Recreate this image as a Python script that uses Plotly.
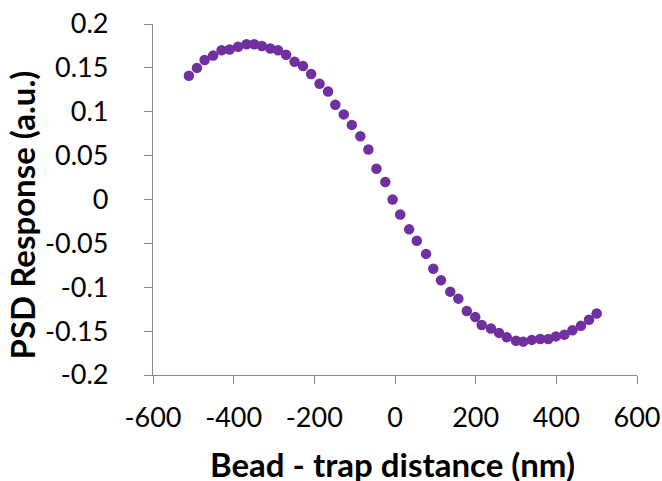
import plotly.graph_objects as go

# Bead - trap distance (nm)
distance_nm = [-511, -491, -472, -451, -430, -410, -389, -368, -349, -330,
               -309, -290, -270, -249, -228, -208, -187, -166, -148, -127,
               -107, -86, -66, -46, -24, -6, 13, 35, 54, 77,
               95, 114, 137, 157, 178, 199, 215, 238, 258, 277,
               300, 318, 339, 360, 380, 399, 420, 440, 461, 481, 500]
# PSD response (a.u.)
psd_response = [0.141, 0.150, 0.159, 0.164, 0.170, 0.171, 0.174, 0.177, 0.177, 0.175,
                0.172, 0.170, 0.165, 0.157, 0.152, 0.143, 0.132, 0.123, 0.108, 0.097,
                0.085, 0.072, 0.057, 0.035, 0.020, 0.000, -0.017, -0.034, -0.047, -0.062,
                -0.079, -0.092, -0.105, -0.113, -0.127, -0.134, -0.143, -0.147, -0.152, -0.157,
                -0.161, -0.162, -0.160, -0.159, -0.159, -0.156, -0.154, -0.149, -0.144, -0.137, -0.130]

x_tick_vals = [-600, -400, -200, 0, 200, 400, 600]
x_tick_text = ["-600", "-400", "-200", "0", "200", "400", "600"]
y_tick_vals = [0.2, 0.15, 0.1, 0.05, 0, -0.05, -0.1, -0.15, -0.2]
y_tick_text = ["0.2", "0.15", "0.1", "0.05", "0", "-0.05", "-0.1", "-0.15", "-0.2"]

x_title = "Bead - trap distance (nm)"
y_title = "PSD Response (a.u.)"

FONT = "Lato"
AXIS_COLOR = "#878787"

fig = go.Figure(go.Scatter(
    x=distance_nm, y=psd_response, mode="markers",
    marker=dict(size=10.5, color="#7030A0", line=dict(width=0)),
    showlegend=False,
))

axis_common = dict(
    showgrid=False, zeroline=False, showline=True, linecolor=AXIS_COLOR, linewidth=1.3,
    ticks="outside", ticklen=8, tickcolor=AXIS_COLOR, tickwidth=1.3,
    tickfont=dict(family=FONT, size=27, color="#000000"),
    ticklabeloverflow="allow",
)

fig.update_xaxes(range=[-600, 600], tickvals=x_tick_vals, ticktext=x_tick_text,
                 ticklabelstandoff=10, **axis_common)
fig.update_yaxes(range=[-0.2, 0.2], tickvals=y_tick_vals, ticktext=y_tick_text,
                 ticklabelstandoff=30, **axis_common)

fig.update_layout(
    width=662, height=481,
    margin=dict(l=152.5, r=25, t=24, b=106, autoexpand=False),
    paper_bgcolor="white", plot_bgcolor="white",
    annotations=[
        dict(text=f"<b>{x_title}</b>", xref="paper", yref="paper", x=0.5, y=0,
             xanchor="center", yanchor="middle", xshift=-3, yshift=-89, showarrow=False,
             font=dict(family=FONT, size=33, color="#000000")),
        dict(text=f"<b>{y_title}</b>", xref="paper", yref="paper", x=0, y=0.5,
             xanchor="center", yanchor="middle", xshift=-132, yshift=-16, textangle=-90,
             showarrow=False, font=dict(family=FONT, size=33, color="#000000")),
    ],
)

fig.write_html("out.html", config={"displayModeBar": False},
               post_script="document.body.style.margin='0';")
